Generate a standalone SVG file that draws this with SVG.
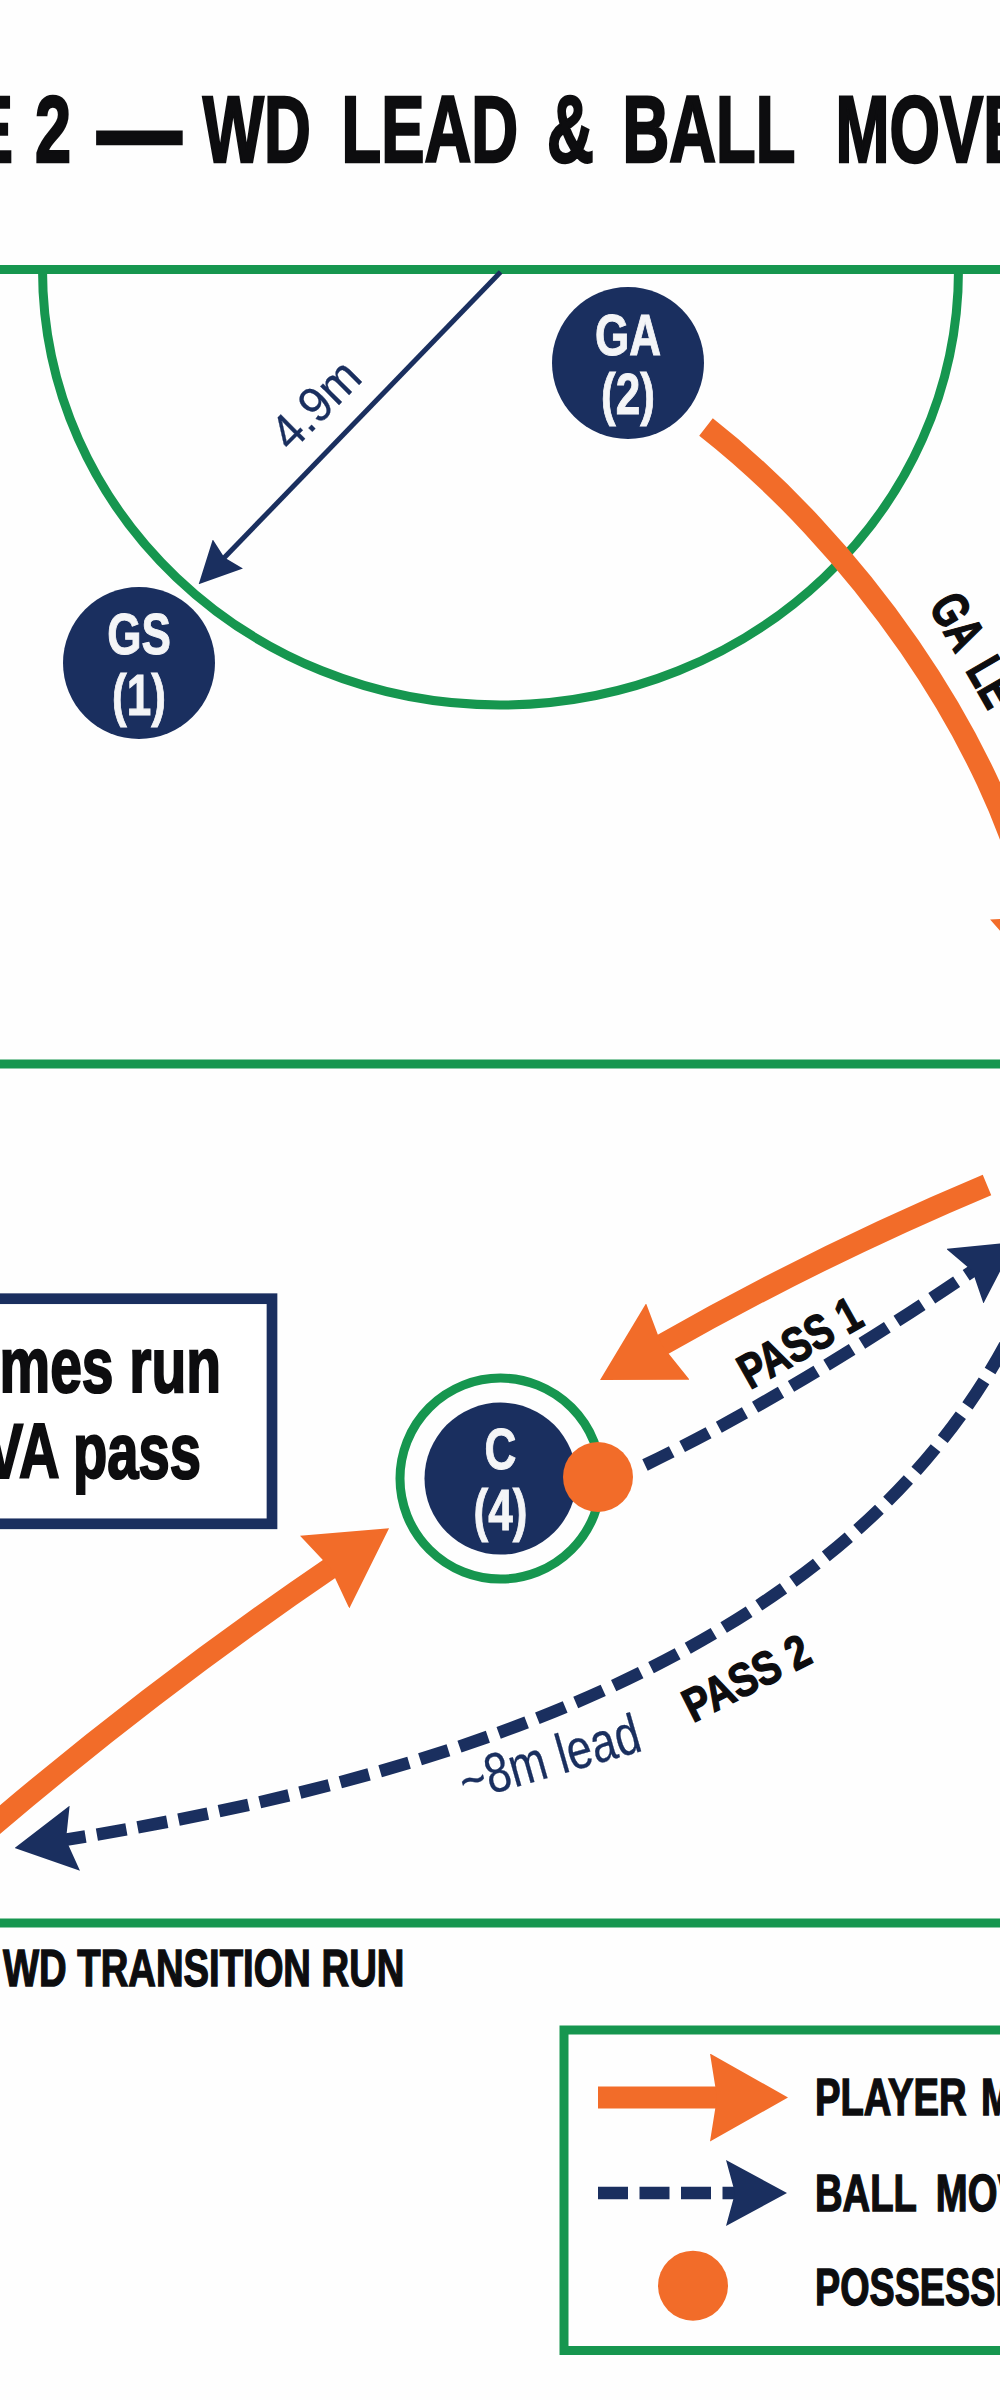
<svg xmlns="http://www.w3.org/2000/svg" width="1000" height="2400" viewBox="0 0 1000 2400">
<style>
text{font-family:"Liberation Sans",Arial,sans-serif}
.b{font-weight:700;fill:#0d0d0f;stroke:#0d0d0f;stroke-width:1.4}
.w{font-weight:700;fill:#f4f5f7;stroke:#f4f5f7;stroke-width:1;font-size:58px;text-anchor:middle}
.n{fill:#1a2f5f}
.o{fill:#f26c29}
.r{font-weight:400;fill:#1a2f5f;stroke:#1a2f5f;stroke-width:.3}
.g{fill:none;stroke:#16964f;stroke-width:9}
.run{fill:none;stroke:#f26c29;stroke-width:22}
.pass{fill:none;stroke:#1a2f5f;stroke-width:12.5;stroke-dasharray:30 11.5}
.lab{font-size:51px}
</style>
<defs>
<marker id="hO" markerUnits="userSpaceOnUse" viewBox="0 0 78 88" markerWidth="78" markerHeight="88" refX="9" refY="44" orient="auto"><path class="o" d="M0,0L78,44L0,88L7,44z"/></marker>
<marker id="hN" markerUnits="userSpaceOnUse" viewBox="0 0 61 66" markerWidth="61" markerHeight="66" refX="11" refY="33" orient="auto"><path class="n" d="M0,0L61,33L0,66L9,33z"/></marker>
<marker id="hT" markerUnits="userSpaceOnUse" viewBox="0 0 42 42" markerWidth="42" markerHeight="42" refX="7" refY="21" orient="auto"><path class="n" d="M0,0L42,21L0,42L5,21z"/></marker>
</defs>
<rect width="1000" height="2400" fill="#fefefe"/>
<text class="b" font-size="94" style="stroke-width:2.6" transform="translate(0,162) scale(.69,1)"><tspan x="-43.7" y="0">E </tspan><tspan x="50.7" y="0">2 </tspan><tspan x="140.6" y="9" font-size="123">— </tspan><tspan x="294" y="0">WD </tspan><tspan x="495" y="0">LEAD </tspan><tspan x="792.8" y="0">&amp; </tspan><tspan x="902" y="0">BALL </tspan><tspan x="1211" y="0">MOVE</tspan></text>
<g id="court">
<path class="g" d="M0,269.5H1000M42.5,269.5C42.5,510 247,705 500,705C753,705 958.5,510 958.5,269.5"/>
<path class="g" d="M0,1064H1000M0,1923H1000"/>
</g>
<g id="callout">
<rect x="-20" y="1298.7" width="292" height="225.1" fill="#fff" stroke="#1a2f5f" stroke-width="10.7"/>
<text class="b" font-size="78" text-anchor="end" style="stroke-width:2.2" transform="translate(221,1391.7) scale(.73,1)">mes run</text>
<text class="b" font-size="78" text-anchor="end" style="stroke-width:2.2" transform="translate(201,1477.7) scale(.72,1)">VA pass</text>
</g>
<g id="connectors">
<path fill="none" stroke="#1a2f5f" stroke-width="5" d="M500.6,272L223,559" marker-end="url(#hT)"/>
<path class="run" d="M706,427C850,540 995,735 1035,919" marker-end="url(#hO)"/>
<path class="run" d="M987,1185Q820,1255 660,1346" marker-end="url(#hO)"/>
<path class="run" d="M-10,1828Q157,1686 332,1567" marker-end="url(#hO)"/>
<path class="pass" d="M645,1465Q790,1395 974,1270" marker-end="url(#hN)"/>
<path class="pass" d="M1005,1345C850,1630 500,1770 64,1840" marker-end="url(#hN)"/>
</g>
<g id="labels">
<text class="r" font-size="50" transform="translate(291,453) rotate(-45) scale(.93,1)">4.9m</text>
<text class="b" font-size="52" word-spacing="12" transform="translate(928,606) rotate(60) scale(.72,1)">GA LE</text>
<text class="b" font-size="49" transform="translate(750,1390) rotate(-29.4) scale(.78,1)">PASS 1</text>
<text class="b" font-size="47" transform="translate(693,1723) rotate(-26.8) scale(.83,1)">PASS 2</text>
<text class="r" font-size="56" transform="translate(465.5,1801.5) rotate(-16) scale(.8,1)">~8m lead</text>
<text class="b lab" transform="translate(3,1986) scale(.75,1)">WD TRANSITION RUN</text>
</g>
<g id="node-ga">
<circle class="n" cx="628" cy="363" r="76"/>
<text class="w" transform="translate(628,354.6) scale(.76,1)">GA</text>
<text class="w" transform="translate(628,414) scale(.76,1)">(2)</text>
</g>
<g id="node-gs">
<circle class="n" cx="139" cy="663" r="76"/>
<text class="w" transform="translate(139,654) scale(.76,1)">GS</text>
<text class="w" transform="translate(139,715) scale(.76,1)">(1)</text>
</g>
<g id="node-c">
<circle cx="500.5" cy="1478.6" r="100.5" fill="none" stroke="#16964f" stroke-width="9"/>
<circle class="n" cx="500.5" cy="1478.6" r="76"/>
<text class="w" transform="translate(500.5,1469) scale(.76,1)">C</text>
<text class="w" transform="translate(500.5,1529.6) scale(.76,1)">(4)</text>
</g>
<g id="ball"><circle class="o" cx="598" cy="1477" r="35"/></g>
<g id="legend">
<rect x="564" y="2030" width="460" height="320.5" class="g"/>
<path class="run" d="M598,2097.5H719" marker-end="url(#hO)"/>
<path class="pass" d="M598,2193H737" marker-end="url(#hN)"/>
<circle class="o" cx="693" cy="2285.7" r="35"/>
<text class="b lab" word-spacing="5" transform="translate(815,2115) scale(.75,1)">PLAYER M</text>
<text class="b lab" word-spacing="12" transform="translate(815,2210.7) scale(.75,1)">BALL MOV</text>
<text class="b lab" transform="translate(815,2305) scale(.74,1)">POSSESSI</text>
</g>
</svg>
